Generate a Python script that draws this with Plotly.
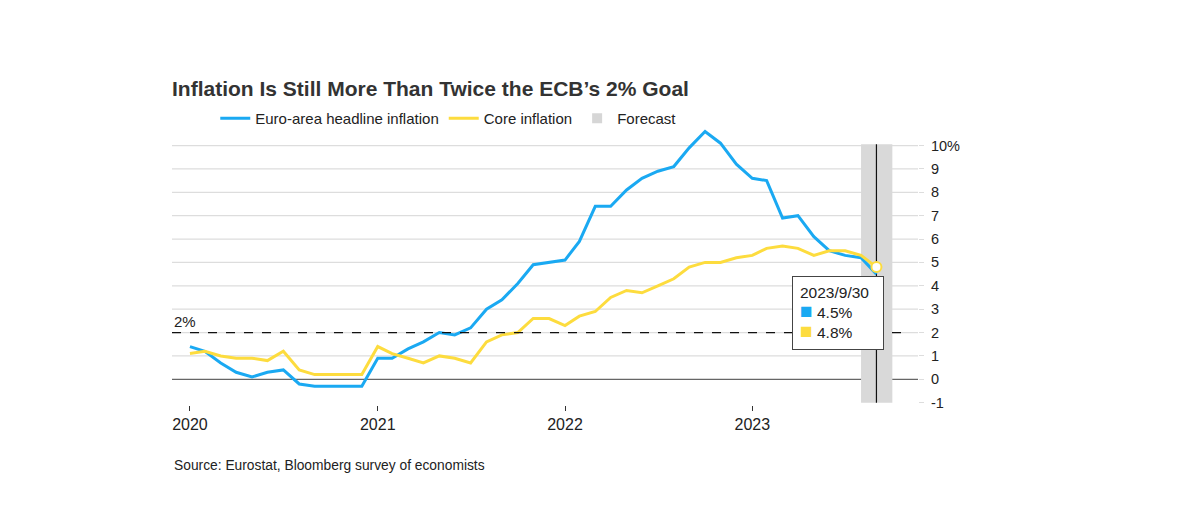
import pandas as pd
import plotly.graph_objects as go

# ── Data ──────────────────────────────────────────────────────────────────────

months = pd.date_range("2020-01-31", periods=45, freq="ME")

headline = [1.4, 1.2, 0.7, 0.3, 0.1, 0.3, 0.4, -0.2, -0.3, -0.3, -0.3, -0.3,
            0.9, 0.9, 1.3, 1.6, 2.0, 1.9, 2.2, 3.0, 3.4, 4.1, 4.9, 5.0,
            5.1, 5.9, 7.4, 7.4, 8.1, 8.6, 8.9, 9.1, 9.9, 10.6, 10.1, 9.2,
            8.6, 8.5, 6.9, 7.0, 6.1, 5.5, 5.3, 5.2, 4.5]

core = [1.1, 1.2, 1.0, 0.9, 0.9, 0.8, 1.2, 0.4, 0.2, 0.2, 0.2, 0.2,
        1.4, 1.1, 0.9, 0.7, 1.0, 0.9, 0.7, 1.6, 1.9, 2.0, 2.6, 2.6,
        2.3, 2.7, 2.9, 3.5, 3.8, 3.7, 4.0, 4.3, 4.8, 5.0, 5.0, 5.2,
        5.3, 5.6, 5.7, 5.6, 5.3, 5.5, 5.5, 5.3, 4.8]

forecast_start = "2023-08-31"
forecast_end = "2023-10-31"
ecb_goal = 2

year_ticks = ["2020-01-31", "2021-01-31", "2022-01-31", "2023-01-31"]
year_labels = ["2020", "2021", "2022", "2023"]
y_ticks = list(range(-1, 11))
y_labels = [str(v) if v < 10 else f"{v}%" for v in y_ticks]

BLUE = "#1AA9F2"
YELLOW = "#FDDC3E"
FONT = "Liberation Sans, Arial, sans-serif"

# ── Figure ────────────────────────────────────────────────────────────────────

fig = go.Figure()

fig.add_trace(go.Scatter(
    x=months, y=headline, mode="lines",
    line=dict(color=BLUE, width=3),
    name="Euro-area headline inflation",
))
fig.add_trace(go.Scatter(
    x=months, y=core, mode="lines",
    line=dict(color=YELLOW, width=3),
    name="Core inflation",
))
fig.add_trace(go.Scatter(
    x=[None], y=[None], mode="markers",
    marker=dict(color="#d6d6d6", size=10, symbol="square"),
    name="Forecast",
))
# hover dot on the last core reading
fig.add_trace(go.Scatter(
    x=[months[-1]], y=[core[-1]], mode="markers",
    marker=dict(color="white", size=10, line=dict(color=YELLOW, width=2)),
    showlegend=False,
))

# gridlines (no full line at -1)
for v in y_ticks:
    if v < 0:
        continue
    fig.add_shape(
        type="line", xref="paper", x0=0, x1=1, y0=v, y1=v,
        line=dict(color="#666666" if v == 0 else "#dddddd",
                  width=1.3 if v == 0 else 1.2),
        layer="below",
    )

# forecast band and marker line
fig.add_shape(type="rect", xref="x", yref="y",
              x0=forecast_start, x1=forecast_end, y0=-1, y1=10.05,
              fillcolor="#d9d9d9", line=dict(width=0), layer="below")
fig.add_shape(type="line", xref="x", yref="y",
              x0=months[-1], x1=months[-1], y0=-1, y1=10.05,
              line=dict(color="#111111", width=1.2), layer="below")

# 2% goal
fig.add_shape(type="line", xref="paper", x0=0, x1=0.985, y0=ecb_goal, y1=ecb_goal,
              line=dict(color="#111111", width=1.3, dash="dash"))
fig.add_annotation(xref="paper", x=0, y=ecb_goal, text=f"{ecb_goal}%",
                   showarrow=False, xanchor="left", yanchor="bottom", yshift=1,
                   font=dict(size=15, color="#222222", family=FONT))

# tooltip box
sq = "<span style='color:{};font-size:21px'>■</span> "
tip = (f"{months[-1].year}/{months[-1].month}/{months[-1].day}<br>"
       f"{sq.format(BLUE)}{headline[-1]}%<br>"
       f"{sq.format(YELLOW)}{core[-1]}%")
fig.add_annotation(x=months[-1], y=core[-1], text=tip, showarrow=False,
                   xanchor="left", yanchor="top", xshift=-84, yshift=-9,
                   align="left", width=76, bgcolor="white",
                   bordercolor="#444444", borderwidth=1, borderpad=7,
                   font=dict(size=15.5, color="#222222", family=FONT))

# source
fig.add_annotation(xref="paper", yref="paper", x=0, y=-0.219,
                   text="Source: Eurostat, Bloomberg survey of economists",
                   showarrow=False, xanchor="left", yanchor="middle",
                   font=dict(size=13.8, color="#222222", family=FONT))

fig.update_layout(
    width=1200, height=519,
    title=dict(text="<b>Inflation Is Still More Than Twice the ECB’s 2% Goal</b>",
               xref="paper", x=0, xanchor="left",
               yref="container", y=1 - 81 / 519, yanchor="middle",
               font=dict(size=21, color="#333333", family=FONT)),
    legend=dict(orientation="h", x=0.058, xanchor="left",
                y=1.034, yanchor="middle", itemwidth=30,
                font=dict(size=15, color="#222222", family=FONT),
                bgcolor="rgba(0,0,0,0)"),
    xaxis=dict(range=["2019-12-27", "2023-12-20"], tickvals=year_ticks,
               ticktext=year_labels, showgrid=False, zeroline=False,
               ticks="outside", ticklen=5, tickcolor="#333333",
               tickfont=dict(size=16, color="#222222", family=FONT)),
    yaxis=dict(range=[-1.1, 10.75], side="right", tickvals=y_ticks,
               ticktext=y_labels, showgrid=False, zeroline=False,
               ticks="outside", ticklen=5, tickcolor="#dddddd",
               ticklabelstandoff=4,
               tickfont=dict(size=14.5, color="#222222", family=FONT)),
    margin=dict(l=164, r=290, t=120, b=122),
    plot_bgcolor="white", paper_bgcolor="white",
    showlegend=True,
)

fig.write_html("out.html")
